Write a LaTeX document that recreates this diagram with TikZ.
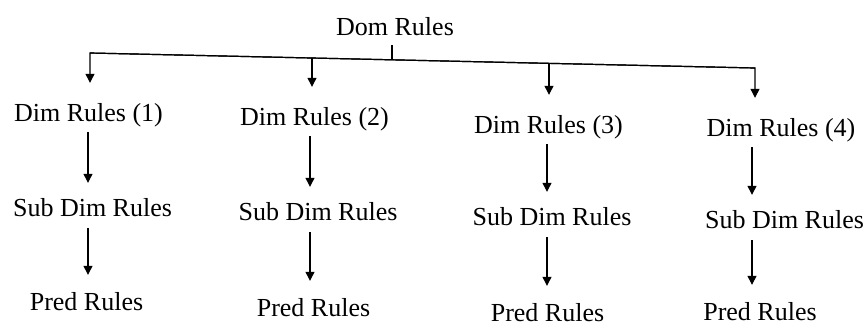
\documentclass[tikz,border=0pt]{standalone}
\usepackage{fontspec}
\setmainfont{Liberation Serif}
\usetikzlibrary{arrows.meta}
\begin{document}
\begin{tikzpicture}[x=1pt,y=-1pt,
  lbl/.style={font=\fontsize{26}{30}\selectfont, inner sep=0pt, anchor=base},
  domlbl/.style={lbl, text height=18pt, text depth=10pt},
  dimlbl/.style={lbl, text height=38pt, text depth=11pt},
  sublbl/.style={lbl, text height=33pt, text depth=12pt},
  predlbl/.style={lbl, text height=35pt, text depth=0pt},
  conn/.style={line width=1.2pt},
  arr/.style={conn, -{Triangle[length=9pt,width=9pt]}}]
\useasboundingbox (0,0) rectangle (867,325);
% labels
\node[domlbl] (dom) at (395,35) {Dom Rules};
\node[dimlbl] (d1) at (88.5,121) {Dim Rules (1)};
\node[dimlbl] (d2) at (314.5,125) {Dim Rules (2)};
\node[dimlbl] (d3) at (548.5,133) {Dim Rules (3)};
\node[dimlbl] (d4) at (781,136) {Dim Rules (4)};
\node[sublbl] (s1) at (92.5,216) {Sub Dim Rules};
\node[sublbl] (s2) at (318,220) {Sub Dim Rules};
\node[sublbl] (s3) at (552,225) {Sub Dim Rules};
\node[sublbl] (s4) at (784.5,228) {Sub Dim Rules};
\node[predlbl] (p1) at (86.5,310) {Pred Rules};
\node[predlbl] (p2) at (313.5,316) {Pred Rules};
\node[predlbl] (p3) at (547.5,321) {Pred Rules};
\node[predlbl] (p4) at (760,320) {Pred Rules};
% bar points and columns
\coordinate (b1) at (90,53);
\coordinate (b2) at (312,58);
\coordinate (bt) at (392,59.8);
\coordinate (b3) at (549,63.4);
\coordinate (b4) at (755,68);
\coordinate (c1) at (88,0);
\coordinate (c2) at (310,0);
\coordinate (c3) at (547,0);
\coordinate (c4) at (752,0);
% connectors
\draw[conn] (dom.south -| bt) -- (bt);
\draw[arr] (b4) -- (b1) -- (b1 |- d1.north);
\draw[arr] (b1) -- (b4) -- (b4 |- d4.north);
\draw[arr] (b2) -- (b2 |- d2.north);
\draw[arr] (b3) -- (b3 |- d3.north);
\draw[arr] (d1.south -| c1) -- (s1.north -| c1);
\draw[arr] (d2.south -| c2) -- (s2.north -| c2);
\draw[arr] (d3.south -| c3) -- (s3.north -| c3);
\draw[arr] (d4.south -| c4) -- (s4.north -| c4);
\draw[arr] (s1.south -| c1) -- (p1.north -| c1);
\draw[arr] (s2.south -| c2) -- (p2.north -| c2);
\draw[arr] (s3.south -| c3) -- (p3.north -| c3);
\draw[arr] (s4.south -| c4) -- (p4.north -| c4);
\end{tikzpicture}
\end{document}
